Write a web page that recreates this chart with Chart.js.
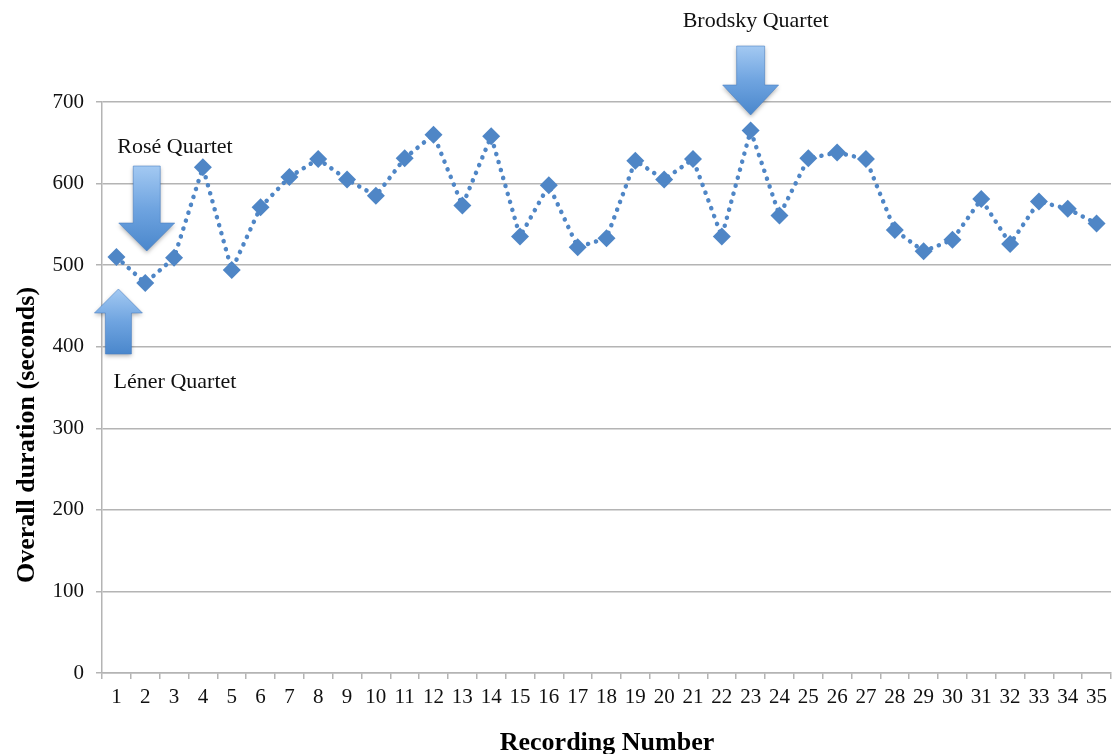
<!DOCTYPE html>
<html>
<head>
<meta charset="utf-8">
<script src="https://cdn.jsdelivr.net/npm/chart.js@4/dist/chart.umd.min.js"></script>
<style>
  html, body { margin: 0; padding: 0; background: #ffffff; }
  #wrap { width: 1112px; height: 754px; position: relative; }
</style>
</head>
<body>
<div id="wrap"><canvas id="c" width="1112" height="754"></canvas></div>
<script>
// ---- data ----
const recordingNumbers = ["1","2","3","4","5","6","7","8","9","10","11","12","13","14","15","16","17","18","19","20","21","22","23","24","25","26","27","28","29","30","31","32","33","34","35"];
const overallDuration = [510,478,509,620,494,571,608,630,605,585,631,660,573,658,535,598,522,533,628,605,630,535,665,561,631,638,630,543,517,531,581,526,578,569,551];
const yTickValues = [0,100,200,300,400,500,600,700];
const yAxisTitle = "Overall duration (seconds)";
const xAxisTitle = "Recording Number";
const annotationLabels = ["Rosé Quartet", "Léner Quartet", "Brodsky Quartet"];
const annotationIndex = [1, 0, 22];

const SERIF = '"Liberation Serif", "Times New Roman", serif';
const GRID = '#b4b4b4';

function drawArrow(ctx, cx, tailY, headBaseY, tipY, shaftHalf, headHalf) {
  ctx.save();
  const top = Math.min(tailY, tipY), bot = Math.max(tailY, tipY);
  const g = ctx.createLinearGradient(0, top, 0, bot);
  g.addColorStop(0, '#a3c9f2');
  g.addColorStop(0.5, '#6fa4e0');
  g.addColorStop(1, '#4a87cc');
  ctx.fillStyle = g;
  ctx.shadowColor = 'rgba(0,0,0,0.3)';
  ctx.shadowBlur = 4;
  ctx.shadowOffsetY = 2;
  ctx.beginPath();
  ctx.moveTo(cx - shaftHalf, tailY);
  ctx.lineTo(cx + shaftHalf, tailY);
  ctx.lineTo(cx + shaftHalf, headBaseY);
  ctx.lineTo(cx + headHalf, headBaseY);
  ctx.lineTo(cx, tipY);
  ctx.lineTo(cx - headHalf, headBaseY);
  ctx.lineTo(cx - shaftHalf, headBaseY);
  ctx.closePath();
  ctx.fill();
  ctx.shadowColor = 'transparent';
  ctx.strokeStyle = 'rgba(70,125,195,0.55)';
  ctx.lineWidth = 1;
  ctx.stroke();
  ctx.restore();
}

const annotationPlugin = {
  id: 'quartetAnnotations',
  afterDatasetsDraw(chart) {
    const ctx = chart.ctx;
    const xs = chart.scales.x;
    const pRose = xs.getPixelForValue(annotationIndex[0]) + 1.5;
    const pLener = xs.getPixelForValue(annotationIndex[1]) + 2;
    const pBrod = xs.getPixelForValue(annotationIndex[2]);
    drawArrow(ctx, pRose, 166, 223, 251, 13.5, 28);
    drawArrow(ctx, pLener, 354, 313, 289, 13, 24);
    drawArrow(ctx, pBrod, 46, 85, 115, 14, 28);
    ctx.save();
    ctx.fillStyle = '#111111';
    ctx.font = '22px ' + SERIF;
    ctx.textAlign = 'center';
    ctx.textBaseline = 'middle';
    ctx.fillText(annotationLabels[0], 175, 147);
    ctx.fillText(annotationLabels[1], 175, 382);
    ctx.fillText(annotationLabels[2], pBrod + 5, 21);
    ctx.restore();
  },
  afterDraw(chart) {
    const ctx = chart.ctx;
    ctx.save();
    ctx.fillStyle = '#000000';
    ctx.font = 'bold 26px ' + SERIF;
    ctx.textAlign = 'center';
    ctx.textBaseline = 'alphabetic';
    ctx.fillText(xAxisTitle, 607, 750);
    ctx.translate(34, 435);
    ctx.rotate(-Math.PI / 2);
    ctx.fillText(yAxisTitle, 0, 0);
    ctx.restore();
  }
};

new Chart(document.getElementById('c'), {
  type: 'line',
  data: {
    labels: recordingNumbers,
    datasets: [{
      data: overallDuration,
      borderColor: '#4f86c6',
      borderWidth: 4.5,
      borderDash: [0.1, 8.2],
      borderCapStyle: 'round',
      pointStyle: 'rectRot',
      pointRadius: 9,
      pointHoverRadius: 9,
      pointBackgroundColor: '#4f86c6',
      pointBorderColor: '#4f86c6',
      pointBorderWidth: 0,
      tension: 0,
      fill: false,
      clip: false
    }]
  },
  options: {
    responsive: false,
    animation: false,
    events: [],
    layout: { autoPadding: false, padding: { top: 102, right: 1, left: 0, bottom: 0 } },
    plugins: { legend: { display: false }, tooltip: { enabled: false } },
    scales: {
      x: {
        type: 'category',
        offset: true,
        grid: { display: true, drawOnChartArea: false, drawTicks: true, tickLength: 6, offset: true, color: GRID, lineWidth: 1.5 },
        border: { display: true, color: GRID, width: 1.5 },
        ticks: { color: '#111111', font: { family: SERIF, size: 21 }, padding: 6, maxRotation: 0, autoSkip: false },
        afterFit(scale) { scale.height = 81; scale.paddingLeft = 0; scale.paddingRight = 0; }
      },
      y: {
        min: 0,
        max: 700,
        afterBuildTicks(scale) { scale.ticks = yTickValues.map(v => ({ value: v })); },
        grid: { color: GRID, lineWidth: 1.5, tickLength: 6, drawTicks: true },
        border: { display: true, color: GRID, width: 1.5 },
        ticks: { color: '#111111', font: { family: SERIF, size: 21 }, padding: 12 },
        afterFit(scale) { scale.width = 102; scale.paddingTop = 0; scale.paddingBottom = 0; }
      }
    }
  },
  plugins: [annotationPlugin]
});
</script>
</body>
</html>
